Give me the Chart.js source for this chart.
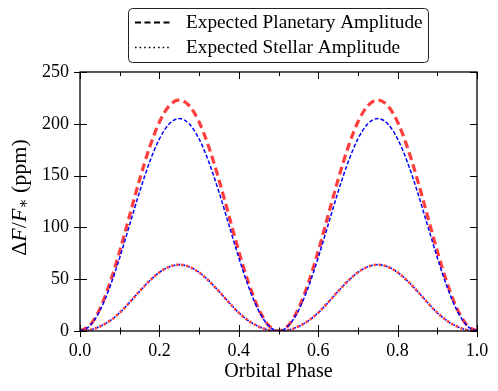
<!DOCTYPE html>
<html>
<head>
<meta charset="utf-8">
<script src="https://cdn.jsdelivr.net/npm/chart.js@4.4.0/dist/chart.umd.min.js"></script>
<style>
  html, body { margin: 0; padding: 0; background: #fff; }
</style>
</head>
<body>
<canvas id="myChart" width="498" height="391"></canvas>
<script>
// orbital phase samples
const phase = [0, 0.025, 0.05, 0.075, 0.1, 0.125, 0.15, 0.175, 0.2, 0.225,
    0.25, 0.275, 0.3, 0.325, 0.35, 0.375, 0.4, 0.425, 0.45, 0.475,
    0.5, 0.525, 0.55, 0.575, 0.6, 0.625, 0.65, 0.675, 0.7, 0.725,
    0.75, 0.775, 0.8, 0.825, 0.85, 0.875, 0.9, 0.925, 0.95, 0.975, 1]

// planetary amplitude (dashed)
const planetRed = [0, 5.5, 21.3, 46.0, 77.0, 111.5, 146.0, 177.0, 201.7, 217.5,
    223.0, 217.5, 201.7, 177.0, 146.0, 111.5, 77.0, 46.0, 21.3, 5.5,
    0, 5.5, 21.3, 46.0, 77.0, 111.5, 146.0, 177.0, 201.7, 217.5,
    223.0, 217.5, 201.7, 177.0, 146.0, 111.5, 77.0, 46.0, 21.3, 5.5, 0]
const planetBlue = [0, 5.0, 19.6, 42.3, 70.8, 102.5, 134.2, 162.7, 185.4, 200.0,
    205.0, 200.0, 185.4, 162.7, 134.2, 102.5, 70.8, 42.3, 19.6, 5.0,
    0, 5.0, 19.6, 42.3, 70.8, 102.5, 134.2, 162.7, 185.4, 200.0,
    205.0, 200.0, 185.4, 162.7, 134.2, 102.5, 70.8, 42.3, 19.6, 5.0, 0]

// stellar amplitude (dotted)
const stellarRed = [0, 1.0, 4.3, 9.8, 17.6, 27.6, 38.3, 48.3, 56.6, 62.0,
    64.0, 62.0, 56.6, 48.3, 38.3, 27.6, 17.6, 9.8, 4.3, 1.0,
    0, 1.0, 4.3, 9.8, 17.6, 27.6, 38.3, 48.3, 56.6, 62.0,
    64.0, 62.0, 56.6, 48.3, 38.3, 27.6, 17.6, 9.8, 4.3, 1.0, 0]
const stellarBlue = [0, 1.0, 4.3, 9.8, 17.6, 27.6, 38.3, 48.3, 56.6, 62.0,
    64.0, 62.0, 56.6, 48.3, 38.3, 27.6, 17.6, 9.8, 4.3, 1.0,
    0, 1.0, 4.3, 9.8, 17.6, 27.6, 38.3, 48.3, 56.6, 62.0,
    64.0, 62.0, 56.6, 48.3, 38.3, 27.6, 17.6, 9.8, 4.3, 1.0, 0]

const xMinor = [0, 0.1, 0.2, 0.3, 0.4, 0.5, 0.6, 0.7, 0.8, 0.9, 1.0]
const yMajor = [0, 50, 100, 150, 200, 250]
const legendLabels = ['Expected Planetary Amplitude', 'Expected Stellar Amplitude']

const serif = '"Liberation Serif", "DejaVu Serif", serif'

function pts(ys) {
    return phase.map((p, i) => ({ x: p, y: ys[i] }))
}

// frame, ticks, y label and legend box
const extras = {
    id: 'extras',
    afterDraw(chart) {
        const { ctx, chartArea: a, scales } = chart
        const x = scales.x, y = scales.y
        ctx.save()
        ctx.strokeStyle = '#000'
        ctx.lineWidth = 1.3
        ctx.setLineDash([])
        ctx.strokeRect(a.left, a.top, a.right - a.left, a.bottom - a.top)

        ctx.lineWidth = 1
        ctx.beginPath()
        for (const v of xMinor) {
            const px = Math.round(x.getPixelForValue(v)) + 0.5
            const major = Math.round(v * 10) % 2 === 0
            const b = major ? 6 : 3.5
            const t = major ? 7 : 4
            ctx.moveTo(px, a.bottom - b); ctx.lineTo(px, a.bottom + b)
            ctx.moveTo(px, a.top); ctx.lineTo(px, a.top + t)
        }
        for (const v of yMajor) {
            const py = Math.round(y.getPixelForValue(v)) + 0.5
            ctx.moveTo(a.left - 6, py); ctx.lineTo(a.left + 7, py)
            ctx.moveTo(a.right - 7, py); ctx.lineTo(a.right, py)
        }
        ctx.stroke()

        // y axis label: ΔF/F* (ppm)
        const parts = [
            { t: 'Δ', f: '22px ' + serif, dy: 0 },
            { t: 'F', f: 'italic 22px ' + serif, dy: 0 },
            { t: '/', f: '22px ' + serif, dy: 0 },
            { t: 'F', f: 'italic 22px ' + serif, dy: 0 },
            { t: '∗', f: '15px ' + serif, dy: 4 },
            { t: ' (ppm)', f: '22px ' + serif, dy: 0 }
        ]
        let total = 0
        for (const p of parts) { ctx.font = p.f; p.w = ctx.measureText(p.t).width; total += p.w }
        ctx.translate(20, (a.top + a.bottom) / 2 - 4)
        ctx.rotate(-Math.PI / 2)
        ctx.fillStyle = '#000'
        ctx.textBaseline = 'middle'
        let cx = -total / 2
        for (const p of parts) {
            ctx.font = p.f
            ctx.fillText(p.t, cx, p.dy)
            cx += p.w
        }
        ctx.setTransform(1, 0, 0, 1, 0, 0)

        // legend
        ctx.fillStyle = '#fff'
        ctx.strokeStyle = '#222'
        ctx.lineWidth = 1
        ctx.beginPath()
        ctx.roundRect(128.5, 8.5, 300, 54, 4)
        ctx.fill()
        ctx.stroke()
        ctx.strokeStyle = '#000'
        ctx.lineWidth = 2.2
        ctx.setLineDash([6, 3.5])
        ctx.beginPath(); ctx.moveTo(135, 22.5); ctx.lineTo(171, 22.5); ctx.stroke()
        ctx.lineWidth = 1.6
        ctx.setLineDash([1.6, 3])
        ctx.beginPath(); ctx.moveTo(135, 47.5); ctx.lineTo(171, 47.5); ctx.stroke()
        ctx.setLineDash([])
        ctx.fillStyle = '#000'
        ctx.font = '19.3px ' + serif
        ctx.textBaseline = 'middle'
        ctx.fillText(legendLabels[0], 186, 23)
        ctx.fillText(legendLabels[1], 186, 48)
        ctx.restore()
    }
}

function renderChart() {
    let ctx = document.getElementById('myChart').getContext('2d')
    new Chart(ctx, {
        type: 'line',
        data: {
            datasets: [
                {
                    label: 'planet blue',
                    data: pts(planetBlue),
                    borderColor: '#0000ff',
                    borderWidth: 1.5,
                    borderDash: [4, 2],
                    order: 1
                },
                {
                    label: 'planet red',
                    data: pts(planetRed),
                    borderColor: 'rgba(255, 0, 0, 0.76)',
                    borderWidth: 3.2,
                    borderDash: [8, 4.5],
                    order: 2
                },
                {
                    label: 'stellar blue',
                    data: pts(stellarBlue),
                    borderColor: '#0000ff',
                    borderWidth: 1.7,
                    borderDash: [1.6, 3.4],
                    borderDashOffset: 2.5,
                    order: 3
                },
                {
                    label: 'stellar red',
                    data: pts(stellarRed),
                    borderColor: 'rgba(255, 0, 0, 0.76)',
                    borderWidth: 2.6,
                    borderDash: [2.4, 2.6],
                    order: 4
                }
            ]
        },
        options: {
            responsive: false,
            animation: false,
            layout: { padding: { top: 72, right: 21, bottom: 0, left: 0 } },
            elements: {
                point: { radius: 0 },
                line: { cubicInterpolationMode: 'monotone', fill: false }
            },
            scales: {
                x: {
                    type: 'linear',
                    min: 0,
                    max: 1,
                    afterFit(scale) { scale.height = 60 },
                    grid: { display: false, drawTicks: false },
                    border: { display: false },
                    ticks: {
                        stepSize: 0.2,
                        padding: 9,
                        color: '#000',
                        font: { family: serif, size: 18 },
                        callback: v => v.toFixed(1)
                    },
                    title: {
                        display: true,
                        text: 'Orbital Phase',
                        color: '#000',
                        font: { family: serif, size: 20 },
                        padding: { top: 0, bottom: 7 }
                    }
                },
                y: {
                    min: 0,
                    max: 250,
                    afterFit(scale) { scale.width = 80 },
                    grid: { display: false, drawTicks: false },
                    border: { display: false },
                    ticks: {
                        stepSize: 50,
                        padding: 11,
                        color: '#000',
                        font: { family: serif, size: 18 }
                    }
                }
            },
            plugins: {
                legend: { display: false },
                tooltip: { enabled: false }
            }
        },
        plugins: [extras]
    })
}

renderChart()
</script>
</body>
</html>
